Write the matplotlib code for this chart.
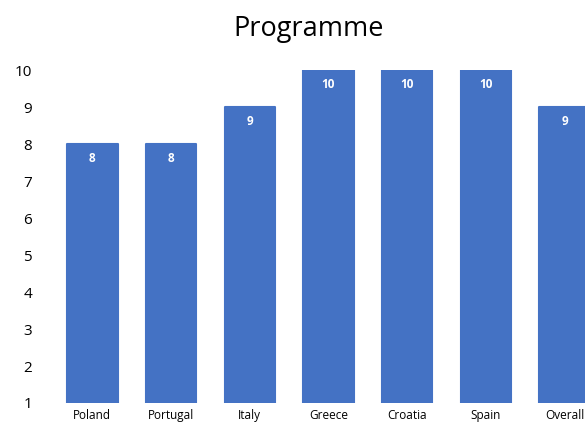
import matplotlib.pyplot as plt

BLUE = "#4472C4"

countries = ["Poland", "Portugal", "Italy", "Greece", "Croatia", "Spain", "Overall"]
scores = [8, 8, 9, 10, 10, 10, 9]

plt.rcParams["font.family"] = ["Open Sans", "DejaVu Sans"]

fig = plt.figure(figsize=(5.85, 4.23), dpi=100, facecolor="white")
ax = fig.add_axes([0.0906, 0.0473, 0.9094, 0.787])

x = list(range(len(countries)))
ax.bar(x, [s - 1 for s in scores], bottom=1, width=0.64, color=BLUE,
       edgecolor=BLUE, linewidth=1.5, joinstyle="round", clip_on=True)

# value labels inside the top of each bar
for xi, s in zip(x, scores):
    ax.text(xi, s - 0.38, str(s), ha="center", va="center", color="white",
            fontsize=8.5, fontweight="bold")

ax.set_xlim(-0.5, 6.26)
ax.set_ylim(1, 10)
ax.set_yticks(range(1, 11))
ax.set_xticks(x)
ax.set_xticklabels(countries, fontsize=8.5)
ax.tick_params(axis="y", labelsize=11, length=0, pad=15)
ax.tick_params(axis="x", length=0, pad=4.5)
for sp in ax.spines.values():
    sp.set_visible(False)

fig.text(0.527, 0.932, "Programme", ha="center", va="center", fontsize=19.5)

plt.savefig("out.png", dpi=100)
